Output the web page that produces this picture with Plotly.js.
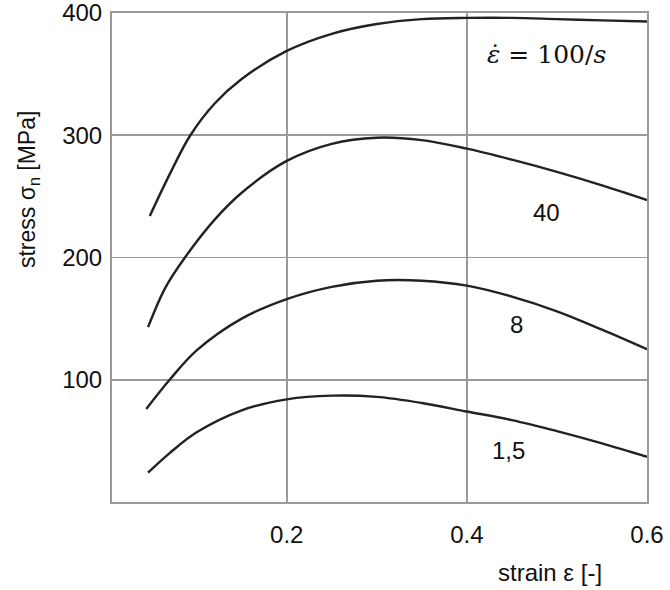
<!DOCTYPE html>
<html>
<head>
<meta charset="utf-8">
<script src="https://cdn.plot.ly/plotly-3.0.1.min.js"></script>
<style>html,body{margin:0;padding:0;background:#fff;}#chart{width:670px;height:590px;}</style>
</head>
<body>
<div id="chart"></div>
<script>
// strain values and stress (MPa) per strain rate
const strain100 = [0.048, 0.07, 0.093, 0.12, 0.15, 0.2, 0.25, 0.3, 0.35, 0.4, 0.45, 0.5, 0.55, 0.6];
const stress100 = [234, 268, 300, 326, 346, 369, 383, 391, 395, 396, 396, 395, 394, 393];

const strain40 = [0.046, 0.065, 0.087, 0.12, 0.15, 0.2, 0.25, 0.3, 0.35, 0.4, 0.45, 0.5, 0.55, 0.6];
const stress40 = [143, 175, 200, 231, 253, 279, 293, 298, 296, 289, 280, 270, 259, 247];

const strain8 = [0.044, 0.07, 0.1, 0.15, 0.2, 0.25, 0.3, 0.35, 0.4, 0.45, 0.5, 0.55, 0.6];
const stress8 = [76, 100, 124, 150, 166, 176, 181, 181, 177, 168, 156, 141, 125];

const strain15 = [0.046, 0.07, 0.1, 0.15, 0.2, 0.25, 0.3, 0.35, 0.4, 0.45, 0.5, 0.55, 0.6];
const stress15 = [24, 40, 57, 75, 84, 87, 86, 81, 74, 67, 58, 48, 37];

const xTicks = [0.2, 0.4, 0.6];
const xTickText = ['0.2', '0.4', '0.6'];
const yTicks = [100, 200, 300, 400];
const yTickText = ['100', '200', '300', '400'];

const rateLabels = ['<i>ε̇</i> = 100/<i>s</i>', '40', '8', '1,5'];
const labelX = [0.488, 0.488, 0.455, 0.446];
const labelY = [366, 237, 145, 42];

const series = [[strain100, stress100], [strain40, stress40], [strain8, stress8], [strain15, stress15]];
const traces = series.map(s => ({
  x: s[0], y: s[1], type: 'scatter', mode: 'lines',
  line: {color: '#222', width: 2.4, shape: 'spline', smoothing: 1},
  hoverinfo: 'skip', showlegend: false
}));

const annotations = rateLabels.map((t, i) => ({
  x: labelX[i], y: labelY[i], xref: 'x', yref: 'y', text: t, showarrow: false,
  xanchor: 'center', yanchor: 'middle',
  font: i === 0 ? {family: 'DejaVu Serif, Liberation Serif, serif', size: 25, color: '#111'}
                : {family: 'Liberation Sans, Arial, sans-serif', size: 24, color: '#111'}
}));
annotations.push({
  xref: 'paper', yref: 'paper', x: -0.157, y: 0.638, text: 'stress σ<sub>n</sub> [MPa]',
  textangle: -90, showarrow: false, xanchor: 'center', yanchor: 'middle',
  font: {family: 'Liberation Sans, Arial, sans-serif', size: 23, color: '#111'}
});
annotations.push({
  xref: 'paper', yref: 'paper', x: 0.818, y: -0.145, text: 'strain ε [-]',
  showarrow: false, xanchor: 'center', yanchor: 'middle',
  font: {family: 'Liberation Sans, Arial, sans-serif', size: 24, color: '#111'}
});

const layout = {
  width: 670, height: 590,
  margin: {l: 112, r: 23, t: 13, b: 88},
  paper_bgcolor: '#fff', plot_bgcolor: '#fff',
  showlegend: false,
  font: {family: 'Liberation Sans, Arial, sans-serif', size: 24, color: '#111'},
  xaxis: {
    range: [0.006, 0.6], tickvals: xTicks, ticktext: xTickText,
    showgrid: true, gridcolor: '#9a9a9a', gridwidth: 1.6,
    showline: true, mirror: true, linecolor: '#9a9a9a', linewidth: 2,
    ticks: 'outside', ticklen: 10, tickcolor: 'rgba(0,0,0,0)',
    ticklabeloverflow: 'allow',
    zeroline: false, tickfont: {size: 24, color: '#111'}
  },
  yaxis: {
    range: [0, 400], tickvals: yTicks, ticktext: yTickText,
    showgrid: true, gridcolor: '#9a9a9a', gridwidth: 1.6,
    showline: true, mirror: true, linecolor: '#9a9a9a', linewidth: 2,
    ticks: 'outside', ticklen: 3, tickcolor: 'rgba(0,0,0,0)',
    ticklabeloverflow: 'allow',
    zeroline: false, tickfont: {size: 24, color: '#111'}
  },
  annotations: annotations
};

Plotly.newPlot('chart', traces, layout, {displayModeBar: false, staticPlot: true});
</script>
</body>
</html>
